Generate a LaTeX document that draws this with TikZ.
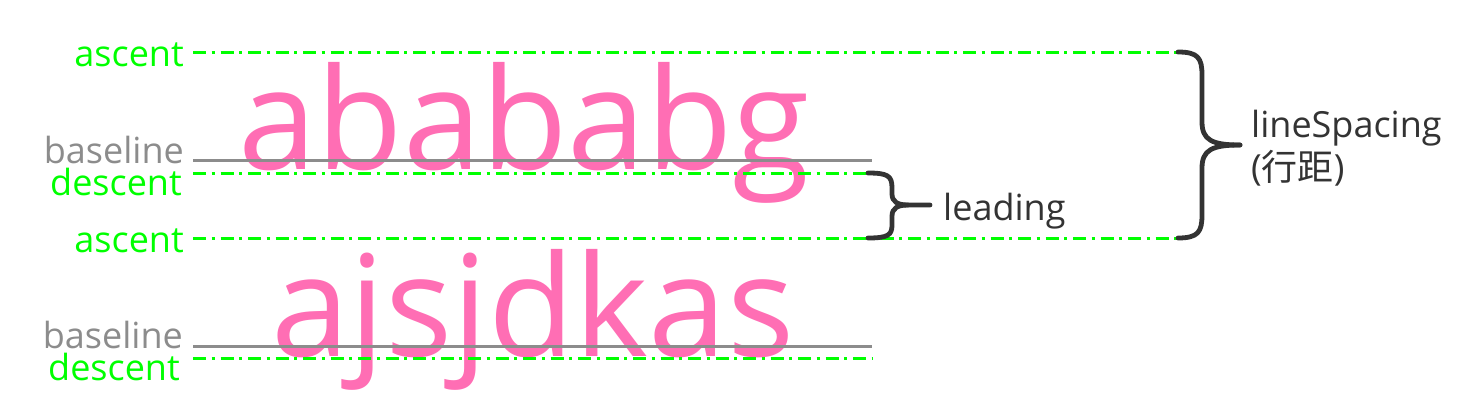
\documentclass[tikz,border=0pt]{standalone}
\usepackage{fontspec}
\setmainfont{Open Sans}
\newfontfamily\cjk{Noto Sans CJK SC}
\definecolor{mygreen}{HTML}{00FF00}
\definecolor{mygrey}{HTML}{8C8C8C}
\definecolor{mypink}{HTML}{FF6EB4}
\definecolor{mydark}{HTML}{333333}
\tikzset{
  greenline/.style={draw=mygreen, line width=3pt, dash pattern=on 13pt off 5.5pt on 3pt off 6pt},
  greyline/.style={draw=mygrey, line width=3pt},
  greenlbl/.style={text=mygreen, font=\fontsize{36}{40}\selectfont, anchor=base east, inner sep=0pt},
  greylbl/.style={text=mygrey, font=\fontsize{36}{40}\selectfont, anchor=base east, inner sep=0pt},
  bigtext/.style={text=mypink, font=\fontsize{141}{150}\selectfont, anchor=base west, inner sep=0pt},
  darklbl/.style={text=mydark, font=\fontsize{36}{40}\selectfont, anchor=base west, inner sep=0pt},
  bracestyle/.style={draw=mydark, line width=4.8pt, line join=round, line cap=round}
}
\begin{document}
\begin{tikzpicture}[x=1pt,y=-1pt]
\useasboundingbox (0,0) rectangle (1466,405);

% big sample texts
\node[bigtext] (t1) at (238,169) {abababg};
\node[bigtext] (t2) at (271,356) {ajsjdkas};

% labels
\node[greenlbl] (la1) at (184,66) {ascent};
\node[greylbl]  (lb1) at (184,163) {baseline};
\node[greenlbl] (ld1) at (182,195) {descent};
\node[greenlbl] (la2) at (184,252) {ascent};
\node[greylbl]  (lb2) at (183,348) {baseline};
\node[greenlbl] (ld2) at (180,380) {descent};

% line end coordinates
\coordinate (a1s) at (193,52);  \coordinate (a1e) at (1180,52);
\coordinate (b1s) at (193,160); \coordinate (b1e) at (872,160);
\coordinate (d1s) at (193,173); \coordinate (d1e) at (868,173);
\coordinate (a2s) at (193,238); \coordinate (a2e) at (1180,238);
\coordinate (b2s) at (193,346); \coordinate (b2e) at (872,346);
\coordinate (d2s) at (193,358); \coordinate (d2e) at (872,358);

\draw[greenline] (a1s) -- (a1e);
\draw[greenline] (d1s) -- (d1e);
\draw[greenline] (a2s) -- (a2e);
\draw[greenline] (d2s) -- (d2e);
\draw[greyline] (b1s) -- (b1e);
\draw[greyline] (b2s) -- (b2e);

% small brace (leading)
\coordinate (sbt) at (930,205);
\draw[bracestyle] (d1e) .. controls (888,173) and (892,176) .. (892,188) -- (892,194)
   .. controls (892,202) and (898,205) .. (908,205) -- (sbt);
\draw[bracestyle] (908,205) .. controls (898,205) and (892,208) .. (892,216) -- (892,225)
   .. controls (892,235) and (888,238) .. (868,238);
\node[darklbl] (lead) at (943,220) {leading};

% big brace (lineSpacing)
\coordinate (bbt) at (1240,145);
\draw[bracestyle] (1178,52) .. controls (1198,52) and (1202,58) .. (1202,75) -- (1202,122)
   .. controls (1202,140) and (1212,145) .. (bbt);
\draw[bracestyle] (bbt) .. controls (1212,145) and (1202,150) .. (1202,168) -- (1202,215)
   .. controls (1202,232) and (1198,238) .. (1178,238);
\node[darklbl] (ls) at (1251,137) {lineSpacing};
\node[darklbl] (ls2) at (1251,180) {({\cjk 行距})};
\end{tikzpicture}
\end{document}
